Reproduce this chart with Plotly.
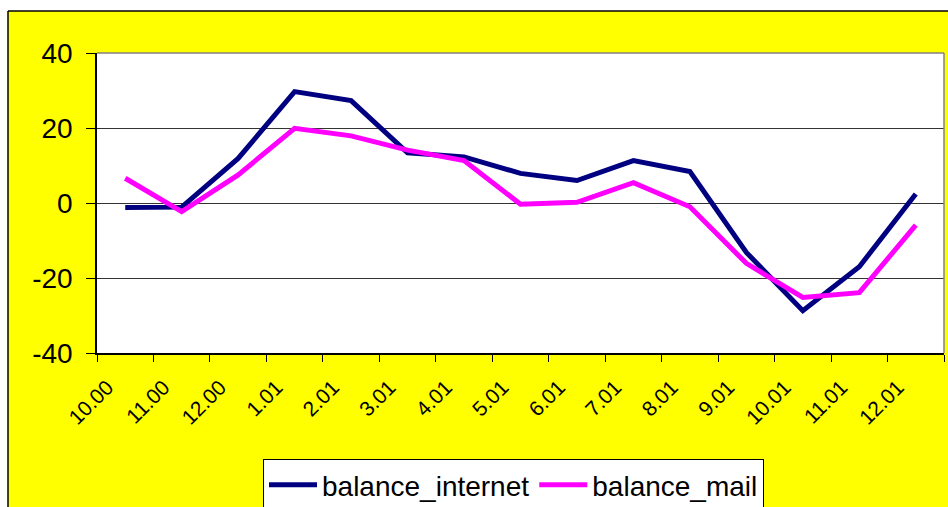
import plotly.graph_objects as go

categories = ["10.00", "11.00", "12.00", "1.01", "2.01", "3.01", "4.01", "5.01",
              "6.01", "7.01", "8.01", "9.01", "10.01", "11.01", "12.01"]
balance_internet = [-1.2, -1.1, 11.9, 29.7, 27.3, 13.4, 12.3, 7.9, 6.0, 11.3, 8.4, -13.2, -28.7, -17.0, 2.4]
balance_mail = [6.6, -2.3, 7.5, 19.9, 17.9, 14.1, 11.3, -0.3, 0.2, 5.4, -1.0, -16.1, -25.2, -23.9, -5.9]
y_ticks = [-40, -20, 0, 20, 40]

W, H = 948, 507
L, R, T, B = 97, 4, 53, 154
PW, PH = W - L - R, H - T - B

def px(xs):  # screen x -> paper fraction
    return (xs - L) / PW

def py(ys):  # screen y -> paper fraction
    return (H - B - ys) / PH

FONT = "Arial, Liberation Sans, sans-serif"

fig = go.Figure()
fig.add_trace(go.Scatter(x=categories, y=balance_internet, mode="lines",
                         name="balance_internet", line=dict(color="#000080", width=5)))
fig.add_trace(go.Scatter(x=categories, y=balance_mail, mode="lines",
                         name="balance_mail", line=dict(color="#FF00FF", width=5)))

shapes = [
    # white strips outside the chart border
    dict(type="rect", xref="paper", yref="paper", x0=px(-2), x1=px(W + 2), y0=py(11), y1=py(-2),
         fillcolor="white", line=dict(width=0), layer="above"),
    dict(type="rect", xref="paper", yref="paper", x0=px(-2), x1=px(8), y0=py(H + 2), y1=py(-2),
         fillcolor="white", line=dict(width=0), layer="above"),
    # black chart border
    dict(type="line", xref="paper", yref="paper", x0=px(8), x1=px(W + 2), y0=py(11), y1=py(11),
         line=dict(color="black", width=1.5)),
    dict(type="line", xref="paper", yref="paper", x0=px(8), x1=px(8), y0=py(11), y1=py(H + 2),
         line=dict(color="black", width=1.5)),
    # gray plot border top/right
    dict(type="line", xref="paper", yref="paper", x0=0, x1=1, y0=1, y1=1,
         line=dict(color="#808080", width=1.5)),
    dict(type="line", xref="paper", yref="paper", x0=1, x1=1, y0=0, y1=1,
         line=dict(color="#808080", width=1.5)),
]

fig.update_layout(
    width=W, height=H,
    margin=dict(l=L, r=R, t=T, b=B, autoexpand=False),
    paper_bgcolor="#FFFF00",
    plot_bgcolor="white",
    font=dict(family=FONT, color="black"),
    showlegend=True,
    legend=dict(orientation="h", xref="container", yref="container",
                x=263 / W, y=1 - 459 / H, xanchor="left", yanchor="top",
                bgcolor="white", bordercolor="black", borderwidth=1, itemwidth=48,
                font=dict(size=28, family=FONT), traceorder="normal"),
    shapes=shapes,
    xaxis=dict(type="category", range=[-0.5, 14.5], tickson="boundaries",
               ticks="outside", ticklen=7, tickcolor="black", tickwidth=1,
               showline=True, linecolor="black", linewidth=1.5,
               showgrid=False, zeroline=False, tickangle=-45,
               tickfont=dict(size=21, family=FONT),
               ticklabelshift=-18, ticklabelstandoff=12),
    yaxis=dict(range=[-40, 40], tickvals=y_ticks, ticktext=[str(v) for v in y_ticks],
               ticks="outside", ticklen=9, tickcolor="black", tickwidth=1,
               showline=True, linecolor="black", linewidth=1.5,
               showgrid=True, gridcolor="#333333", gridwidth=1, zeroline=False,
               tickfont=dict(size=28, family=FONT), ticklabelstandoff=8),
)

fig.write_html("out.html", config={"displayModeBar": False},
               post_script="document.body.style.margin='0px';document.body.style.overflow='hidden';")
